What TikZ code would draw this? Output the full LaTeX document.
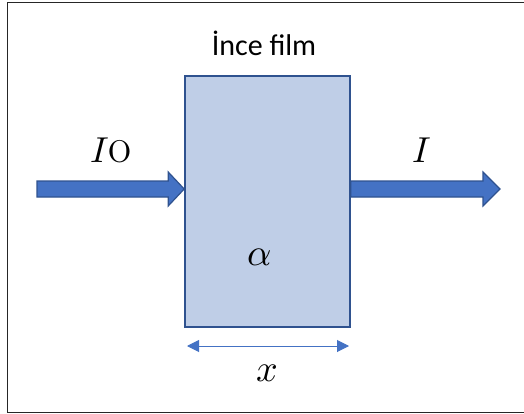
\documentclass[tikz,border=0pt]{standalone}
\usepackage{fontspec}
\usepackage{unicode-math}
\setmathfont{Latin Modern Math}
\newfontfamily\calib{Carlito}
\newfontfamily\lmr{Latin Modern Roman}
\usetikzlibrary{arrows.meta,calc}
\definecolor{filmfill}{HTML}{BFCEE7}
\definecolor{darkblue}{HTML}{2F528F}
\definecolor{midblue}{HTML}{4472C4}
\tikzset{
  filmbox/.style={draw=darkblue, line width=1.6pt, fill=filmfill, minimum width=165pt, minimum height=251pt, inner sep=0pt},
  fatarrow/.style={draw=darkblue, line width=1.2pt, fill=midblue, line join=miter},
  dimline/.style={draw=midblue, line width=1pt, {Triangle[length=12pt,width=12pt]}-{Triangle[length=12pt,width=12pt]}},
  mathlbl/.style={inner sep=0pt, font=\fontsize{36}{40}\selectfont},
  smalllbl/.style={inner sep=0pt, font=\fontsize{38}{42}\selectfont},
}
\begin{document}
\begin{tikzpicture}[x=1pt,y=-1pt]
\useasboundingbox (0,0) rectangle (524,414);
\draw[line width=1pt, black!85] (7,3) rectangle (530,412);
\node[filmbox] (film) at (267.5,201.5) {};
\node[inner sep=0pt, font=\fontsize{30}{34}\selectfont\calib] (title) at (264,43) {İnce film};
% input arrow
\coordinate (inStart) at (37,189);
\coordinate (inTip) at (film.west |- inStart);
\draw[fatarrow] ($(inStart)+(0,-8)$) -- ($(inTip)+(-16,-8)$) -- ($(inTip)+(-16,-17)$) -- (inTip)
  -- ($(inTip)+(-16,17)$) -- ($(inTip)+(-16,8)$) -- ($(inStart)+(0,8)$) -- cycle;
% output arrow
\coordinate (outTip) at (500,189);
\coordinate (outStart) at (film.east |- outTip);
\draw[fatarrow] ($(outStart)+(0,-8)$) -- ($(outTip)+(-17,-8)$) -- ($(outTip)+(-17,-17)$) -- (outTip)
  -- ($(outTip)+(-17,17)$) -- ($(outTip)+(-17,8)$) -- ($(outStart)+(0,8)$) -- cycle;
\node[mathlbl, anchor=base] (I0) at (111,163) {$I${\lmr\fontsize{50}{54}\selectfont o}};
\node[mathlbl, anchor=base] (I) at (422,163) {$I$};
\node[smalllbl] (alpha) at (260,257) {$\alpha$};
\coordinate (dimL) at (187,346);
\coordinate (dimR) at (349,346);
\draw[dimline] (dimL) -- (dimR);
\node[smalllbl] (x) at (267,373) {$x$};
\end{tikzpicture}
\end{document}
